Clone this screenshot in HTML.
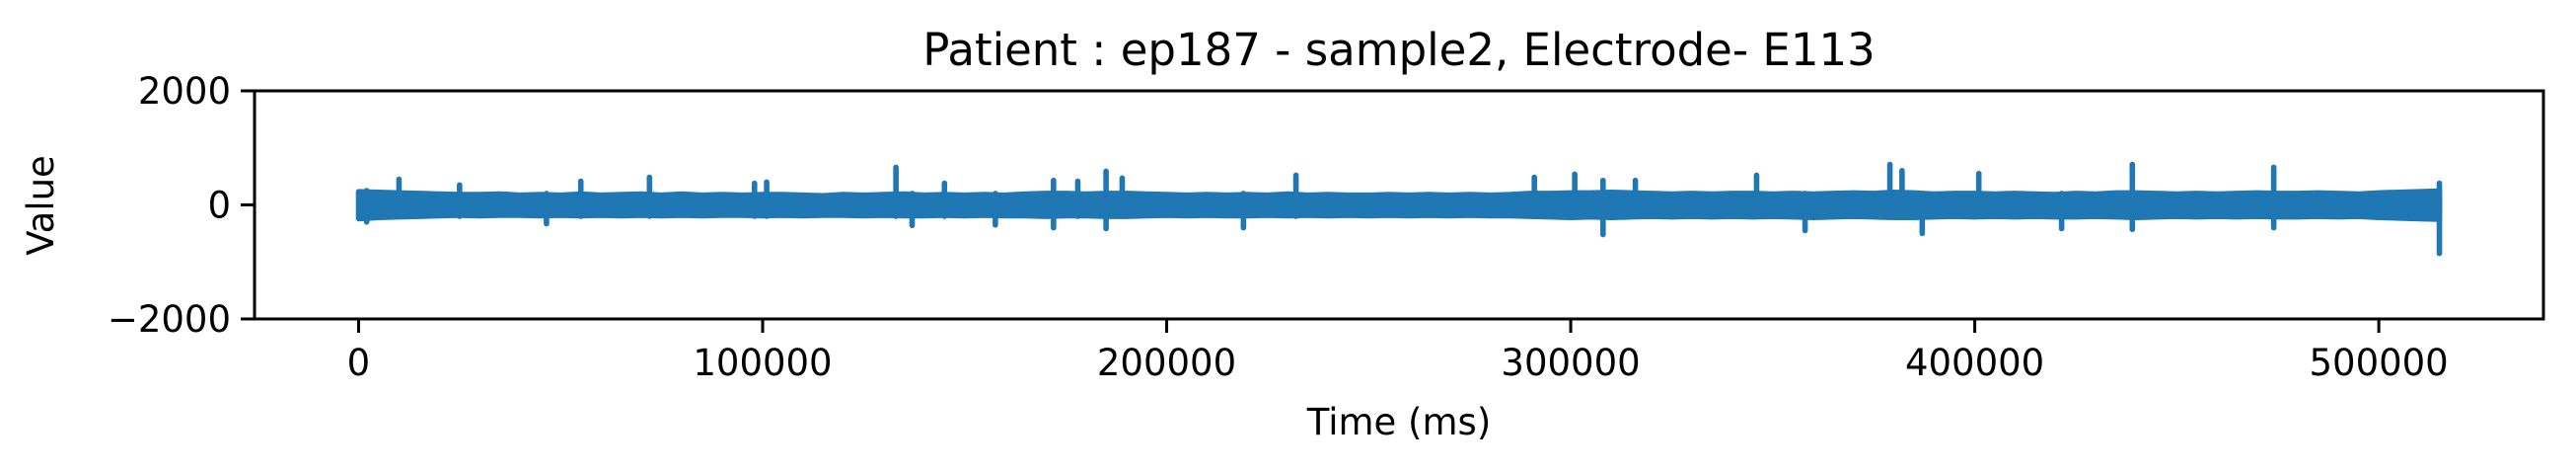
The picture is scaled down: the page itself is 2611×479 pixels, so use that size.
<!DOCTYPE html>
<html><head><meta charset="utf-8"><style>
html,body{margin:0;padding:0;background:#fff;}
svg{display:block;font-family:"DejaVu Sans","Liberation Sans",sans-serif;}
</style></head><body>
<svg id="chart" width="2611" height="479" viewBox="0 0 2611 479" xmlns="http://www.w3.org/2000/svg">
<rect width="2611" height="479" fill="#fff"/>
<text x="1418" y="66" font-size="45" text-anchor="middle">Patient : ep187 - sample2, Electrode- E113</text>
<g id="plot"></g>
<rect x="258" y="92" width="2320" height="231" fill="none" stroke="#000" stroke-width="3"/>
<g id="axes"></g>
<text x="1418" y="440" font-size="37" text-anchor="middle">Time (ms)</text>
<text transform="translate(54,208) rotate(-90)" font-size="37" text-anchor="middle">Value</text>
</svg>
<script>
const chunkStepMs = 5000;
const hiValues = [230,220,210,200,190,180,180,190,170,180,170,190,170,180,190,170,190,170,180,170,180,180,170,160,180,170,180,190,170,180,170,180,170,190,200,200,190,200,200,190,180,170,180,170,180,170,190,170,180,170,170,180,170,180,170,180,170,180,200,200,210,210,220,210,200,190,200,190,200,200,190,200,190,200,210,200,220,210,190,200,200,190,200,190,180,200,190,210,210,200,190,200,190,200,210,200,200,210,200,190,210,220,230,240];
const loValues = [-240,-220,-210,-200,-190,-180,-190,-180,-180,-190,-180,-190,-180,-190,-180,-190,-180,-190,-180,-180,-190,-180,-190,-180,-180,-190,-180,-190,-190,-180,-190,-180,-190,-190,-200,-190,-190,-200,-200,-190,-180,-190,-180,-190,-190,-180,-190,-180,-190,-180,-190,-180,-190,-180,-190,-180,-190,-190,-200,-210,-220,-210,-220,-210,-200,-210,-200,-210,-200,-210,-200,-210,-220,-210,-200,-210,-220,-220,-210,-200,-210,-200,-210,-200,-210,-210,-200,-210,-220,-210,-200,-210,-200,-210,-200,-210,-210,-200,-210,-200,-220,-230,-240,-250];
const spikeTimes = [2000,10000,25000,46500,55000,72000,98000,101000,133000,137000,145000,157600,172000,178000,185000,189000,219000,232000,291000,301000,308000,316000,346000,358000,379000,382000,387000,401000,421500,439000,474000,515000];
const spikeHi = [250,450,350,200,415,485,380,400,660,200,380,200,430,415,590,470,200,520,485,540,430,430,520,200,710,600,200,550,200,710,660,380];
const spikeLo = [-300,-200,-200,-330,-200,-200,-200,-200,-200,-360,-200,-350,-400,-200,-415,-200,-400,-200,-200,-200,-520,-200,-200,-450,-200,-200,-500,-200,-415,-430,-400,-850];
const xTickValues = [0,100000,200000,300000,400000,500000];
const xTickLabels = ["0","100000","200000","300000","400000","500000"];
const yTickValues = [-2000,0,2000];
const yTickLabels = ["\u22122000","0","2000"];

const X0=258, X1=2578, Y0=92, Y1=323;
const xMin=-25750, xMax=540750, yMin=-2000, yMax=2000;
function xs(t){return X0+(t-xMin)/(xMax-xMin)*(X1-X0);}
function ys(v){return Y1-(v-yMin)/(yMax-yMin)*(Y1-Y0);}
const NS="http://www.w3.org/2000/svg";
const plot=document.getElementById('plot');
const pts=[];
for(let i=0;i<hiValues.length;i++) pts.push(xs(i*chunkStepMs).toFixed(1)+','+ys(hiValues[i]).toFixed(1));
for(let i=loValues.length-1;i>=0;i--) pts.push(xs(i*chunkStepMs).toFixed(1)+','+ys(loValues[i]).toFixed(1));
const poly=document.createElementNS(NS,'polygon');
poly.setAttribute('points',pts.join(' '));
poly.setAttribute('fill','#1f77b4');
poly.setAttribute('stroke','#1f77b4');
poly.setAttribute('stroke-width','5.6');
poly.setAttribute('stroke-linejoin','round');


plot.appendChild(poly);
spikeTimes.forEach((t,i)=>{
  const l=document.createElementNS(NS,'line');
  const x=xs(t);
  l.setAttribute('x1',x);l.setAttribute('x2',x);
  l.setAttribute('y1',ys(spikeHi[i]));l.setAttribute('y2',ys(spikeLo[i]));
  l.setAttribute('stroke','#1f77b4');l.setAttribute('stroke-width','5.6');l.setAttribute('stroke-linecap','round');
  
  
  plot.appendChild(l);
});

const axes=document.getElementById('axes');
xTickValues.forEach((v,i)=>{
  const x=xs(v);
  const l=document.createElementNS(NS,'line');
  l.setAttribute('x1',x);l.setAttribute('x2',x);l.setAttribute('y1',Y1);l.setAttribute('y2',Y1+14);
  l.setAttribute('stroke','#000');l.setAttribute('stroke-width','3');
  
  
  axes.appendChild(l);
  const t=document.createElementNS(NS,'text');
  t.setAttribute('x',x);t.setAttribute('y',Y1+57);t.setAttribute('font-size','37');t.setAttribute('text-anchor','middle');
  t.textContent=xTickLabels[i];
  
  
  axes.appendChild(t);
});
yTickValues.forEach((v,i)=>{
  const y=ys(v);
  const l=document.createElementNS(NS,'line');
  l.setAttribute('x1',X0-14);l.setAttribute('x2',X0);l.setAttribute('y1',y);l.setAttribute('y2',y);
  l.setAttribute('stroke','#000');l.setAttribute('stroke-width','3');
  
  
  axes.appendChild(l);
  const t=document.createElementNS(NS,'text');
  t.setAttribute('x',X0-24);t.setAttribute('y',y+13);t.setAttribute('font-size','37');t.setAttribute('text-anchor','end');
  t.textContent=yTickLabels[i];
  
  
  axes.appendChild(t);
});
</script>
</body></html>
